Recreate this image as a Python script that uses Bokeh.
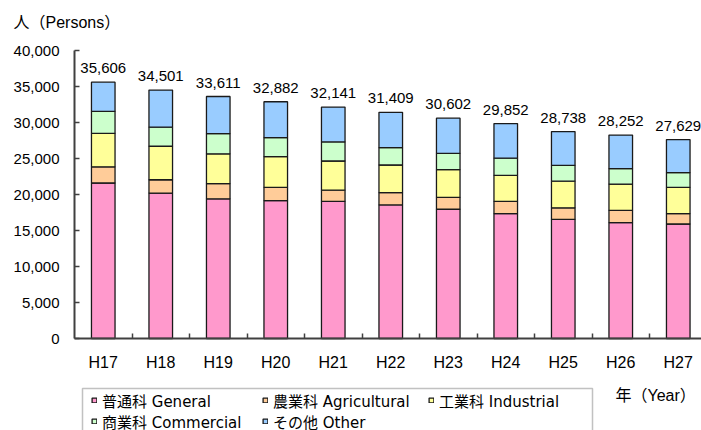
from bokeh.plotting import figure
from bokeh.models import (ColumnDataSource, FixedTicker, NumeralTickFormatter,
                          Legend, LegendItem, Label, LabelSet, LinearAxis, BoxAnnotation)
from bokeh.core.properties import value
from bokeh.embed import file_html
from bokeh.resources import INLINE

# ---- data ----
years = ["H17", "H18", "H19", "H20", "H21", "H22", "H23", "H24", "H25", "H26", "H27"]
general = [21600, 20200, 19400, 19150, 19050, 18550, 17950, 17350, 16550, 16100, 15900]
agricultural = [2250, 1850, 2100, 1850, 1550, 1700, 1650, 1700, 1600, 1700, 1450]
industrial = [4650, 4650, 4150, 4250, 4050, 3850, 3850, 3600, 3700, 3650, 3650]
commercial = [3050, 2650, 2800, 2650, 2650, 2400, 2250, 2400, 2200, 2150, 2050]
other = [4056, 5151, 5161, 4982, 4841, 4909, 4902, 4802, 4688, 4652, 4579]
totals = [35606, 34501, 33611, 32882, 32141, 31409, 30602, 29852, 28738, 28252, 27629]
y_ticks = [0, 5000, 10000, 15000, 20000, 25000, 30000, 35000, 40000]
series_labels = ["普通科 General", "農業科 Agricultural", "工業科 Industrial",
                 "商業科 Commercial", "その他 Other"]
colors = ["#FF99CC", "#FFCC99", "#FFFF99", "#CCFFCC", "#99CCFF"]
y_title = "人（Persons）"
x_title = "年（Year）"

# ---- layout (pixels) ----
W, H = 701, 430
AX_LEFT, AX_TOP, AX_BOTTOM = 74, 50, 338
CAT_PITCH = 57.5
Y_MAX = 40000
ppu = (AX_BOTTOM - AX_TOP) / Y_MAX
x_start = -0.5 - AX_LEFT / CAT_PITCH
x_end = -0.5 + (W - AX_LEFT) / CAT_PITCH
y_start = -(H - AX_BOTTOM) / ppu
y_end = Y_MAX + AX_TOP / ppu

# legend layout: (glyph left x, row centre y) in page pixels for each item
LEG_POS = [(91, 400), (262, 400), (428, 400), (91, 421), (262, 421)]
LEG_BOX = (82, 592, 388, 445)  # left, right, top, bottom
ITEM_H = 22

LAT = "'Liberation Sans', 'Noto Sans CJK JP', sans-serif"
LEG_FONT = "'DejaVu Sans', 'Noto Sans CJK JP', sans-serif"

xs = list(range(len(years)))
keys = ["general", "agricultural", "industrial", "commercial", "other"]
source = ColumnDataSource(dict(
    x=xs, general=general, agricultural=agricultural, industrial=industrial,
    commercial=commercial, other=other, total=totals,
    total_label=[f"{t:,}" for t in totals]))

p = figure(width=W, height=H, output_backend="svg", toolbar_location=None,
           x_range=(x_start, x_end), y_range=(y_start, y_end),
           x_axis_location=None, y_axis_location=None,
           min_border=0)
p.outline_line_color = None
p.xgrid.visible = False
p.ygrid.visible = False
p.background_fill_color = "white"

renderers = p.vbar_stack(keys, x="x", width=0.41, fill_color=colors,
                         line_color="#1a1a1a", line_width=1.3, source=source)

axis_color = "#404040"
xaxis = LinearAxis(fixed_location=0, bounds=(-0.5, x_end),
                   ticker=FixedTicker(ticks=xs, minor_ticks=[i + 0.5 for i in xs[:-1]]))
xaxis.major_label_overrides = {i: y for i, y in enumerate(years)}
xaxis.major_tick_line_color = None
xaxis.minor_tick_in = 5
xaxis.minor_tick_out = 0
xaxis.minor_tick_line_color = axis_color
xaxis.minor_tick_line_width = 1.5
xaxis.axis_line_color = axis_color
xaxis.axis_line_width = 2
xaxis.major_label_text_font = LAT
xaxis.major_label_text_font_size = "16px"
xaxis.major_label_text_color = "black"
xaxis.major_label_standoff = 9
p.add_layout(xaxis, "below")

yaxis = LinearAxis(fixed_location=-0.5, bounds=(0, Y_MAX),
                   ticker=FixedTicker(ticks=y_ticks, minor_ticks=[]),
                   formatter=NumeralTickFormatter(format="0,0"))
yaxis.major_tick_in = 5
yaxis.major_tick_out = 0
yaxis.major_tick_line_color = axis_color
yaxis.major_tick_line_width = 1.5
yaxis.minor_tick_line_color = None
yaxis.axis_line_color = axis_color
yaxis.axis_line_width = 2
yaxis.major_label_text_font = LAT
yaxis.major_label_text_font_size = "15px"
yaxis.major_label_text_color = "black"
yaxis.major_label_standoff = 15
p.add_layout(yaxis, "left")

# totals on top of bars
labels = LabelSet(x="x", y="total", text="total_label", source=source,
                  y_offset=9, text_align="center", text_baseline="bottom",
                  text_font=value(LAT), text_font_size=value("15px"), text_color="black")
p.add_layout(labels)

# axis titles (screen units from frame bottom-left)
p.add_layout(Label(x=13, y=H - 22, x_units="screen", y_units="screen", text=y_title,
                   text_font=LAT, text_font_size="16px", text_baseline="middle",
                   text_align="left", text_color="black"))
p.add_layout(Label(x=615, y=H - 395, x_units="screen", y_units="screen", text=x_title,
                   text_font=LAT, text_font_size="16px", text_baseline="middle",
                   text_align="left", text_color="black"))

# legend box
bl, br, bt, bb = LEG_BOX
p.add_layout(BoxAnnotation(left=bl, right=br, top=H - bt, bottom=H - bb,
                           left_units="screen", right_units="screen",
                           top_units="screen", bottom_units="screen",
                           fill_color="white", fill_alpha=1.0,
                           line_color="#333333", line_width=1.5))

# legend items, one positioned entry each
for lbl, r, (gx, cy) in zip(series_labels, renderers, LEG_POS):
    leg = Legend(items=[LegendItem(label=lbl, renderers=[r])],
                 location=(gx, H - cy - ITEM_H / 2),
                 glyph_width=6, glyph_height=6, label_standoff=5, label_height=ITEM_H,
                 spacing=0, padding=0, margin=0,
                 label_text_font=LEG_FONT, label_text_font_size="15px",
                 label_text_color="black",
                 border_line_color=None, background_fill_alpha=0.0)
    p.add_layout(leg)

open("out.html", "w").write(file_html(p, INLINE))
